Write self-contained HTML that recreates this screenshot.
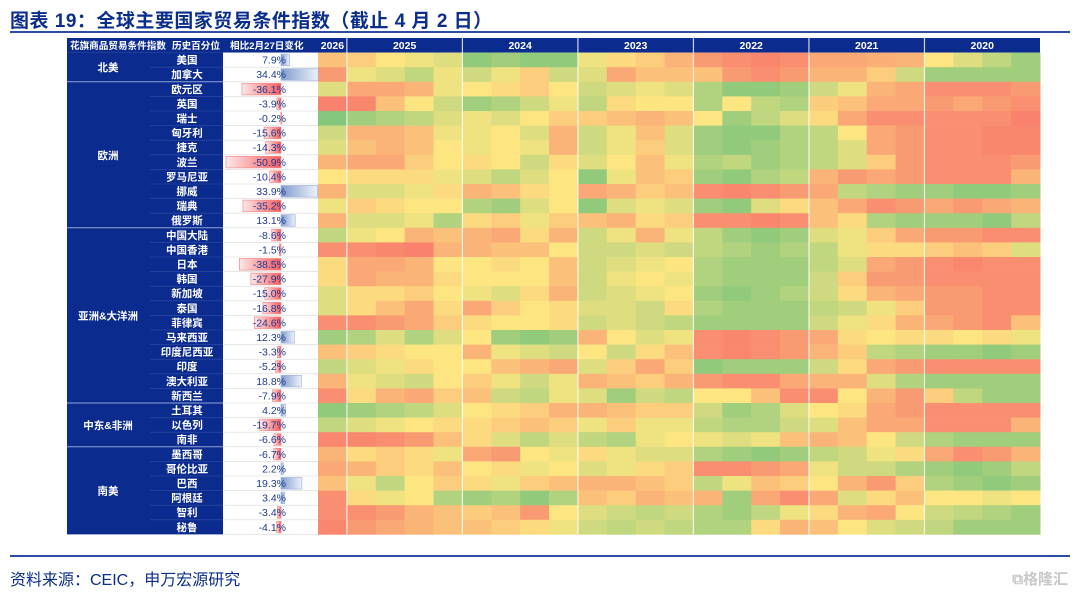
<!DOCTYPE html>
<html><head><meta charset="utf-8">
<style>
html,body{margin:0;padding:0;background:#fff;}
body{width:1080px;height:597px;overflow:hidden;position:relative;font-family:"Liberation Sans","Noto Sans CJK SC",sans-serif;}
.title{position:absolute;left:10px;top:6px;font-size:19px;font-weight:bold;color:#0b2e8c;letter-spacing:0.5px;}
.tline{position:absolute;left:10px;width:1060px;top:31px;height:2px;background:#2b4ea3;}
.fline{position:absolute;left:10px;width:1060px;top:555px;height:2px;background:#2b4ea3;}
.src{position:absolute;left:10px;top:566px;font-size:16px;color:#0b2e8c;}
.wm{position:absolute;right:12px;top:568px;font-size:15px;color:#c8c8c8;font-weight:bold;}
svg{position:absolute;left:0;top:0;}
</style></head><body>
<div class="title">图表 19：全球主要国家贸易条件指数（截止 4 月 2 日）</div>
<div class="tline"></div>
<svg id="chart" width="1080" height="597"></svg>
<div class="fline"></div>
<div class="src">资料来源：CEIC，申万宏源研究</div>
<div class="wm">⧉格隆汇</div>
<script>
const countries=["美国","加拿大","欧元区","英国","瑞士","匈牙利","捷克","波兰","罗马尼亚","挪威","瑞典","俄罗斯","中国大陆","中国香港","日本","韩国","新加坡","泰国","菲律宾","马来西亚","印度尼西亚","印度","澳大利亚","新西兰","土耳其","以色列","南非","墨西哥","哥伦比亚","巴西","阿根廷","智利","秘鲁"];
const changes=[7.9,34.4,-36.1,-3.9,-0.2,-15.6,-14.3,-50.9,-10.4,33.9,-35.2,13.1,-8.6,-1.5,-38.5,-27.9,-15.0,-16.8,-24.6,12.3,-3.3,-5.2,18.8,-7.9,4.2,-19.7,-6.6,-6.7,2.2,19.3,3.4,-3.4,-4.1];
const regions=[{name:"北美",start:0,end:1},{name:"欧洲",start:2,end:11},{name:"亚洲&大洋洲",start:12,end:23},{name:"中东&非洲",start:24,end:26},{name:"南美",start:27,end:32}];
const years=["2026","2025","2024","2023","2022","2021","2020"];
const quartersPerYear=[1,4,4,4,4,4,4];
// percentile values per quarter, left (latest) to right (oldest)
const pct=[
[35,40,50,55,60,85,80,85,85,55,45,40,30,20,15,12,15,25,25,28,30,50,60,70,80],
[20,55,60,70,55,65,55,40,65,60,25,35,35,35,20,15,20,30,30,40,65,80,80,80,80],
[60,25,25,30,55,50,45,40,50,65,60,55,60,75,85,85,80,65,55,30,25,15,15,15,20],
[10,12,35,50,65,80,75,65,55,70,45,50,50,75,50,70,75,40,35,25,25,20,25,20,15],
[90,80,75,70,60,55,60,50,40,40,35,30,35,50,80,70,60,45,25,15,15,15,15,15,10],
[65,30,30,35,55,55,50,60,30,65,55,35,60,80,85,85,75,70,50,25,20,15,15,12,12],
[60,35,30,35,50,55,50,55,30,65,55,40,60,80,85,80,75,70,60,25,20,15,15,12,12],
[30,25,25,40,50,45,50,65,45,60,50,35,55,75,70,80,75,70,60,40,20,15,15,15,20],
[50,45,45,45,55,60,70,60,50,85,55,35,40,80,85,75,70,30,20,25,20,15,15,15,30],
[30,60,60,55,45,30,35,45,50,25,30,40,35,15,12,15,20,25,70,75,80,80,85,85,80],
[55,40,45,50,50,75,80,60,50,85,60,55,60,80,85,60,45,35,25,15,20,25,20,25,30],
[30,60,60,55,75,45,40,55,40,35,30,45,40,15,15,12,15,35,45,75,80,80,80,85,70],
[70,55,50,30,35,30,25,45,30,65,55,30,55,70,80,85,80,60,55,40,25,20,20,15,15],
[15,15,12,10,30,30,35,35,50,65,65,60,65,70,75,80,75,70,55,45,45,40,35,40,60],
[45,25,25,30,50,50,45,50,35,65,60,55,50,75,80,80,80,70,60,25,20,15,12,15,15],
[45,25,30,30,45,50,50,50,35,65,55,50,55,75,80,80,80,65,40,20,20,15,15,15,15],
[60,45,45,40,50,55,60,45,30,65,60,55,50,80,85,80,75,65,45,30,25,20,20,15,15],
[60,45,35,25,45,25,40,50,45,60,60,65,45,75,80,80,80,70,65,55,40,20,20,15,15],
[15,15,20,25,40,45,50,50,45,65,60,65,70,80,80,80,80,65,55,45,30,25,20,15,35],
[80,75,60,75,60,50,80,85,80,30,50,60,55,15,12,15,20,25,45,50,45,45,50,45,55],
[35,40,45,50,50,30,55,60,65,50,65,45,35,15,12,15,20,30,40,70,75,80,80,85,80],
[70,60,55,45,50,50,35,30,25,60,40,25,40,85,80,80,80,65,45,25,20,15,15,15,15],
[30,55,60,65,50,40,55,65,55,30,35,40,30,20,15,15,25,30,30,60,75,80,80,80,80],
[15,45,30,25,40,35,65,70,55,60,80,65,70,50,50,35,15,15,50,30,20,40,70,80,80],
[85,80,75,70,60,50,45,40,30,30,35,40,40,65,80,75,60,50,45,25,20,15,15,15,15],
[70,60,55,50,45,45,40,35,40,55,40,55,55,70,75,75,65,60,35,25,25,15,15,15,30],
[12,12,15,20,35,45,60,70,60,70,75,55,50,55,60,55,35,30,35,50,65,75,80,80,80],
[30,45,40,45,55,25,20,50,55,45,55,60,60,75,80,85,80,70,65,55,45,25,15,20,30],
[25,30,40,45,35,50,45,55,50,60,55,45,40,15,15,20,25,55,65,65,75,80,85,80,70],
[35,55,70,50,40,45,55,40,35,30,30,35,40,70,55,35,40,50,30,20,40,75,80,85,80],
[15,45,55,50,75,80,75,85,75,35,40,30,35,30,80,25,15,25,60,45,35,50,50,55,50],
[15,15,20,30,35,40,35,20,50,60,65,70,65,75,80,70,55,45,30,25,50,65,70,75,80],
[12,20,25,30,35,35,40,45,55,65,70,65,70,75,75,45,30,35,50,60,65,70,80,80,80]
];
</script>
<script>
const NS="http://www.w3.org/2000/svg";
const svg=document.getElementById('chart');
const NAVY="#0b2b8f";
const top0=38, headH=14.6, rowH=14.6, rows0=top0+headH;
const hx0=318, hx1=1040;
const nQ=quartersPerYear.reduce((a,b)=>a+b,0);
const qW=(hx1-hx0)/nQ;
function xq(i){return hx0+i*qW;}
function yr(i){return rows0+i*rowH;}
const zeroX=281, pxPer=1.08;
function xv(v){return zeroX+v*pxPer;}
function mk(tag,attrs,parent){const e=document.createElementNS(NS,tag);for(const k in attrs)e.setAttribute(k,attrs[k]);(parent||svg).appendChild(e);return e;}
function lerp(a,b,t){return a.map((c,i)=>Math.round(c+(b[i]-c)*t));}
const RED=[247,105,104],YEL=[253,230,130],GRN=[100,190,122];
function col(v){const c=v<50?lerp(RED,YEL,v/50):lerp(YEL,GRN,(v-50)/50);return `rgb(${c[0]},${c[1]},${c[2]})`;}

const defs=mk('defs',{});
const gp=mk('linearGradient',{id:'gpos',x1:'0',x2:'1',y1:'0',y2:'0'},defs);
mk('stop',{offset:'0','stop-color':'#7f9ccd'},gp);mk('stop',{offset:'1','stop-color':'#eef2fa'},gp);
const gn=mk('linearGradient',{id:'gneg',x1:'1',x2:'0',y1:'0',y2:'0'},defs);
mk('stop',{offset:'0','stop-color':'#f65a5a'},gn);mk('stop',{offset:'1','stop-color':'#fde8e8'},gn);

let e=mk('rect',{x:67,y:top0,width:hx1-67,height:headH,fill:NAVY});

const heads=[["花旗商品贸易条件指数",70,9.6],["历史百分位",172,9.6],["相比2月27日变化",230,9.6]];
heads.forEach(h=>{const t=mk('text',{x:h[1],y:top0+11,fill:'#fff','font-size':h[2],'font-weight':'bold','text-anchor':'start'});t.textContent=h[0];
});
let qi=0;
years.forEach((y,k)=>{const x0=xq(qi),x1=xq(qi+quartersPerYear[k]);
const t=mk('text',{x:(x0+x1)/2,y:top0+11,fill:'#fff','font-size':10.5,'font-weight':'bold','text-anchor':'middle'});t.textContent=y;

qi+=quartersPerYear[k];});

e=mk('rect',{x:67,y:rows0,width:156,height:rowH*countries.length,fill:NAVY});

e=mk('rect',{x:223,y:rows0,width:hx0-223,height:rowH*countries.length,fill:'#fff'});


pct.forEach((row,r)=>{row.forEach((v,c)=>{
const cell=mk('rect',{x:xq(c),y:yr(r),width:qW+0.5,height:rowH+0.3,fill:col(v)});


});});
qi=0;
years.forEach((y,k)=>{qi+=quartersPerYear[k];if(k<years.length-1){const l=mk('line',{x1:xq(qi),x2:xq(qi),y1:top0,y2:yr(countries.length),stroke:'#fff','stroke-width':1.2,opacity:0.8});
}});

countries.forEach((c,r)=>{
const y=yr(r);
const t=mk('text',{x:187,y:y+11,fill:'#fff','font-size':10.5,'font-weight':'bold','text-anchor':'middle'});t.textContent=c;

mk('line',{x1:224,x2:hx0,y1:y+rowH,y2:y+rowH,stroke:'#d8d8d8','stroke-width':0.6});
const v=changes[r];
const bx=Math.min(xv(v),zeroX),bw=Math.abs(xv(v)-zeroX);
const b=mk('rect',{x:bx,y:y+1.5,width:Math.max(bw,1),height:rowH-3,fill:v>=0?'url(#gpos)':'url(#gneg)',stroke:v>=0?'#9fb3da':'#f38a8a','stroke-width':0.7});

const tv=mk('text',{x:286,y:y+11,fill:'#1f3a93','font-size':10.5,'text-anchor':'end'});tv.textContent=v.toFixed(1)+'%';

});
regions.forEach(g=>{
const y0=yr(g.start),y1=yr(g.end+1);
const t=mk('text',{x:108,y:(y0+y1)/2+4,fill:'#fff','font-size':10.5,'font-weight':'bold','text-anchor':'middle'});t.textContent=g.name;

if(g.start>0){const l=mk('line',{x1:67,x2:223,y1:y0,y2:y0,stroke:'#8fa3d6','stroke-width':1});
}
for(let i=g.start+1;i<=g.end;i++){mk('line',{x1:150,x2:223,y1:yr(i),y2:yr(i),stroke:'#3552a6','stroke-width':0.6});}
});
</script>
</body></html>
